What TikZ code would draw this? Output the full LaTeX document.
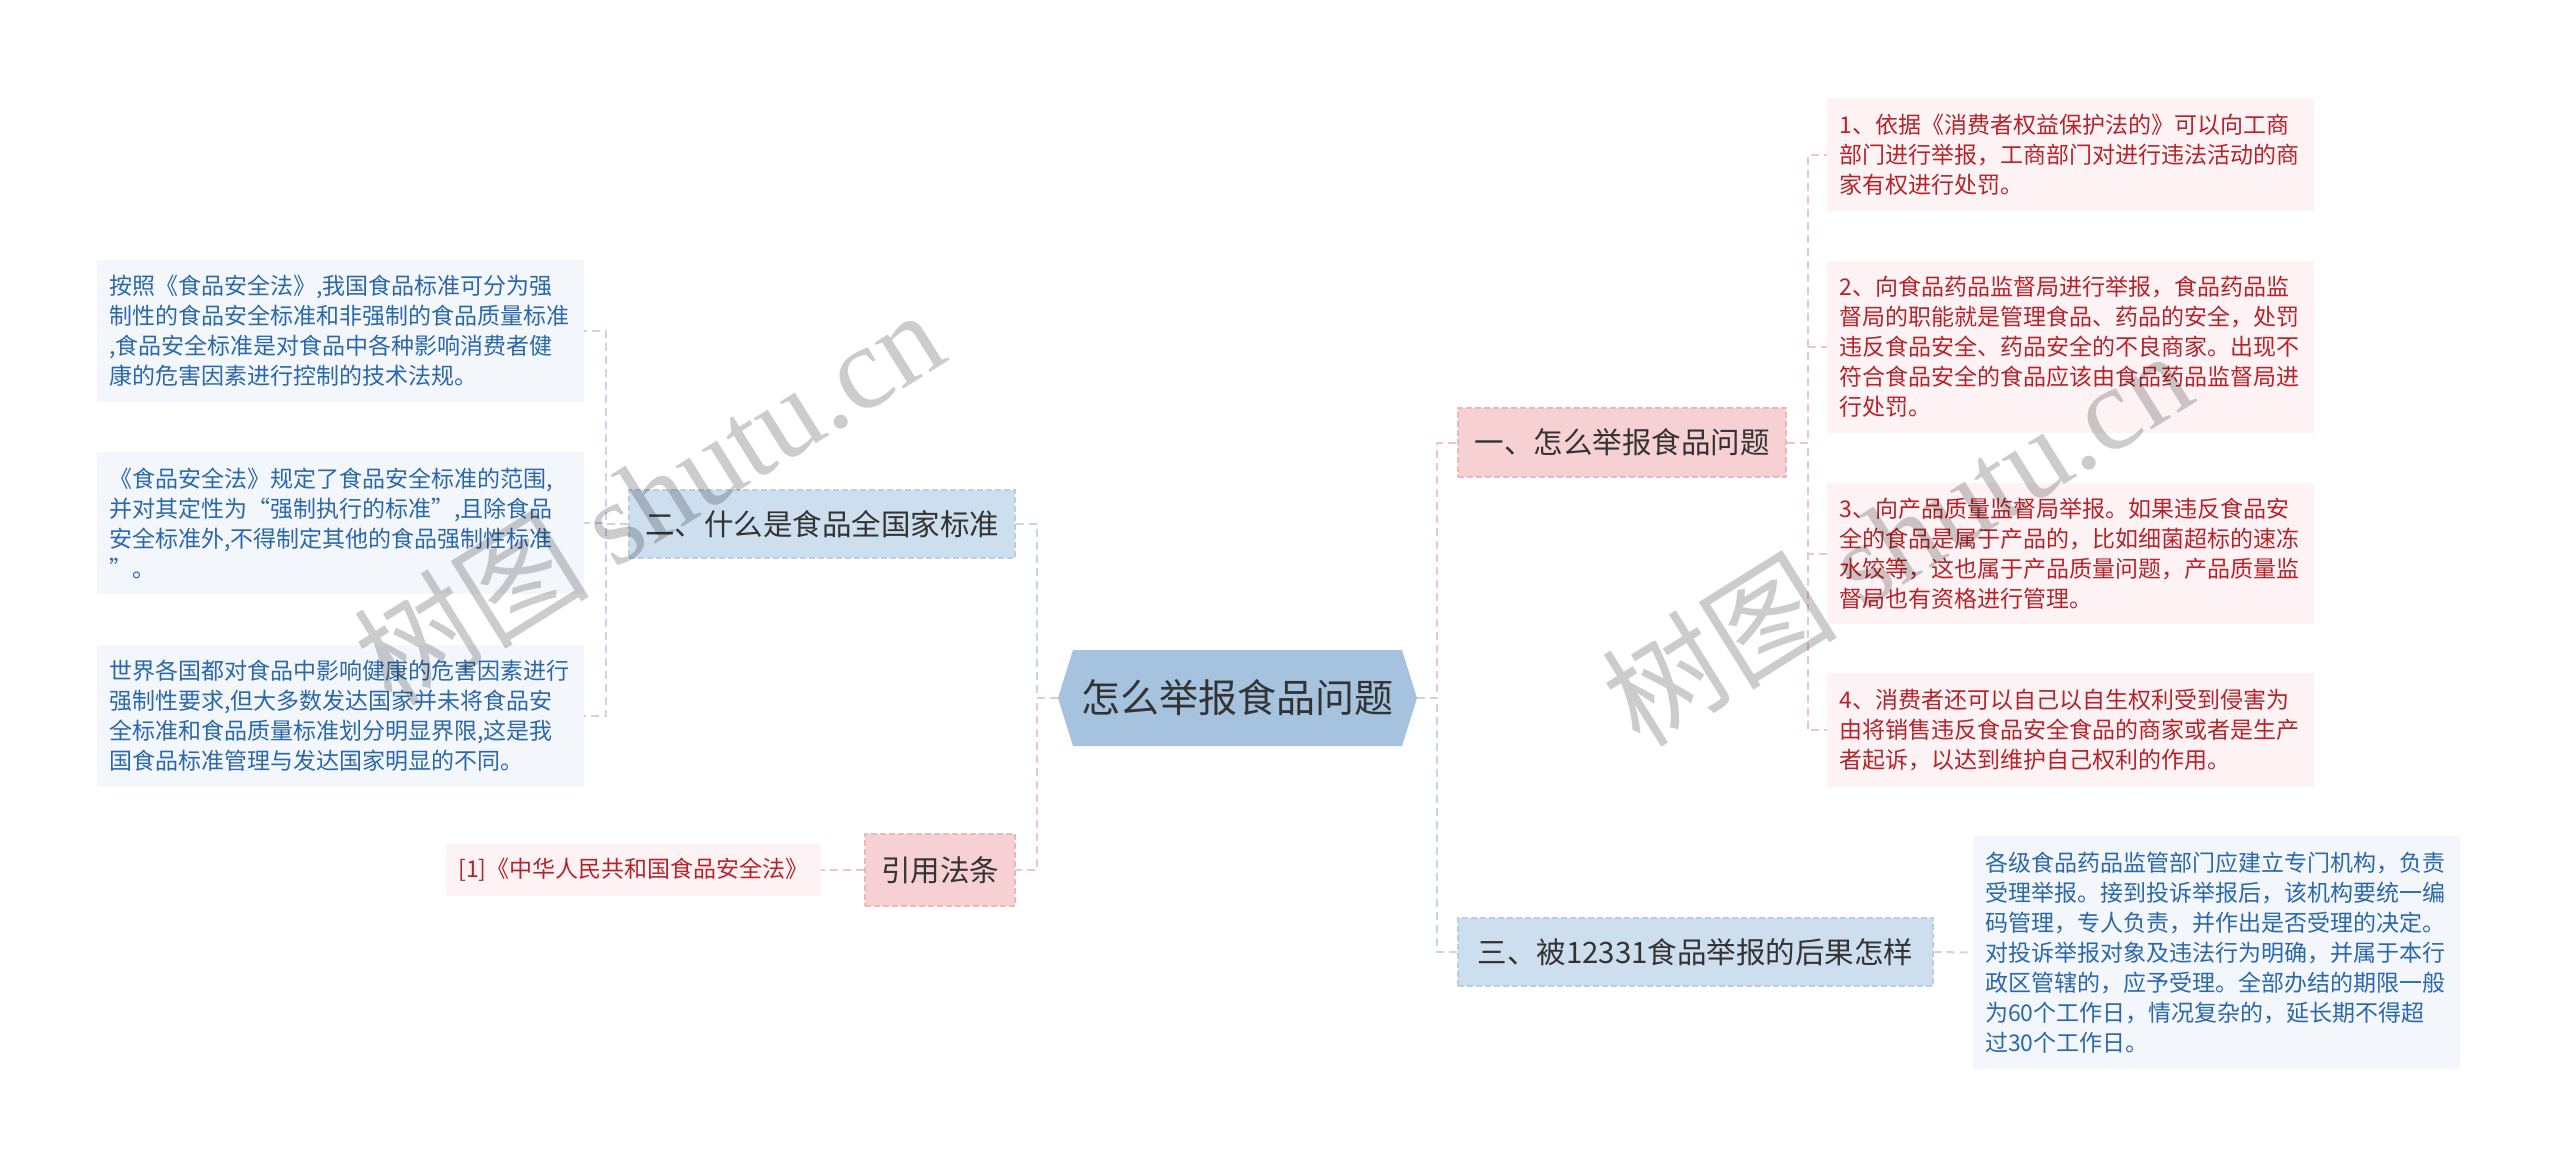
\documentclass[tikz,border=0pt]{standalone}
\usepackage{fontspec}
\setmainfont{Noto Sans CJK SC}
\newfontfamily\wmlatin{Liberation Serif}
\definecolor{rootfill}{RGB}{165,195,222}
\definecolor{pinkfill}{RGB}{246,208,210}
\definecolor{pinkborder}{RGB}{234,184,188}
\definecolor{bluefill}{RGB}{205,222,238}
\definecolor{blueborder}{RGB}{185,206,226}
\definecolor{pinkleaf}{RGB}{253,243,244}
\definecolor{blueleaf}{RGB}{243,247,252}
\definecolor{redtext}{RGB}{183,35,43}
\definecolor{bluetext}{RGB}{43,104,170}
\definecolor{pinkline}{RGB}{240,196,200}
\definecolor{blueline}{RGB}{196,214,232}
\definecolor{darktext}{RGB}{51,51,51}
\begin{document}
\begin{tikzpicture}[x=1pt,y=-1pt,
  branchbox/.style={draw, dash pattern=on 6pt off 3pt, line width=1.2pt, minimum height=68pt, inner sep=0pt, text=darktext, font=\fontsize{29.5}{34}\selectfont},
  pinkbranch/.style={branchbox, fill=pinkfill, draw=pinkborder},
  bluebranch/.style={branchbox, fill=bluefill, draw=blueborder},
  leafbox/.style={text width=462pt, inner xsep=12.5pt, inner ysep=0pt, align=left, font=\fontsize{23}{30}\selectfont},
  pinkleafbox/.style={leafbox, fill=pinkleaf, text=redtext},
  blueleafbox/.style={leafbox, fill=blueleaf, text=bluetext},
  pinkconn/.style={draw=pinkline, line width=2pt, dash pattern=on 8pt off 5pt},
  blueconn/.style={draw=blueline, line width=2pt, dash pattern=on 8pt off 5pt},
  watermark/.style={text=black, text opacity=0.2, rotate=32, inner sep=0pt, font=\fontsize{118}{128}\selectfont}
]
\fill[white] (0,0) rectangle (2560,1167);
\useasboundingbox (0,0) rectangle (2560,1167);

% root
\fill[rootfill] (1058,698) -- (1073,650) -- (1402,650) -- (1417,698) -- (1402,746) -- (1073,746) -- cycle;
\node[minimum width=359pt, minimum height=96pt, inner sep=0pt, text=darktext, font=\fontsize{39}{44}\selectfont] (root) at (1237.5,698) {怎么举报食品问题};

% branches
\node[pinkbranch, minimum width=328pt, minimum height=69pt] (b1) at (1622,442.5) {一、怎么举报食品问题};
\node[bluebranch, minimum width=386pt] (b2) at (822,524) {二、什么是食品全国家标准};
\node[bluebranch, minimum width=475pt] (b3) at (1695.5,952) {三、被12331食品举报的后果怎样};
\node[pinkbranch, minimum width=150pt, minimum height=72pt] (b4) at (940,870) {引用法条};

% right leaves
\node[pinkleafbox, minimum height=113pt] (r1) at (2070.5,154.5) {1、依据《消费者权益保护法的》可以向工商\\部门进行举报，工商部门对进行违法活动的商\\家有权进行处罚。};
\node[pinkleafbox, minimum height=172pt] (r2) at (2070.5,347) {2、向食品药品监督局进行举报，食品药品监\\督局的职能就是管理食品、药品的安全，处罚\\违反食品安全、药品安全的不良商家。出现不\\符合食品安全的食品应该由食品药品监督局进\\行处罚。};
\node[pinkleafbox, minimum height=141pt] (r3) at (2070.5,553.5) {3、向产品质量监督局举报。如果违反食品安\\全的食品是属于产品的，比如细菌超标的速冻\\水饺等，这也属于产品质量问题，产品质量监\\督局也有资格进行管理。};
\node[pinkleafbox, minimum height=114pt] (r4) at (2070.5,730) {4、消费者还可以自己以自生权利受到侵害为\\由将销售违反食品安全食品的商家或者是生产\\者起诉，以达到维护自己权利的作用。};
\node[blueleafbox, minimum height=233pt] (r5) at (2216,952.5) {各级食品药品监管部门应建立专门机构，负责\\受理举报。接到投诉举报后，该机构要统一编\\码管理，专人负责，并作出是否受理的决定。\\对投诉举报对象及违法行为明确，并属于本行\\政区管辖的，应予受理。全部办结的期限一般\\为60个工作日，情况复杂的，延长期不得超\\过30个工作日。};

% left leaves
\node[blueleafbox, minimum height=142pt] (l1) at (340.5,331) {按照《食品安全法》,我国食品标准可分为强\\制性的食品安全标准和非强制的食品质量标准\\,食品安全标准是对食品中各种影响消费者健\\康的危害因素进行控制的技术法规。};
\node[blueleafbox, minimum height=142pt] (l2) at (340.5,523) {《食品安全法》规定了食品安全标准的范围,\\并对其定性为“强制执行的标准”,且除食品\\安全标准外,不得制定其他的食品强制性标准\\”。};
\node[blueleafbox, minimum height=142pt] (l3) at (340.5,716) {世界各国都对食品中影响健康的危害因素进行\\强制性要求,但大多数发达国家并未将食品安\\全标准和食品质量标准划分明显界限,这是我\\国食品标准管理与发达国家明显的不同。};
\node[fill=pinkleaf, text=redtext, minimum width=375pt, minimum height=52pt, inner sep=0pt, font=\fontsize{23}{30}\selectfont] (ref) at (633.5,870) {[1]《中华人民共和国食品安全法》};

% connectors root
\draw[blueconn] (root.west) -- ++(-21,0) |- (b2.east);
\draw[pinkconn] (root.west) -- ++(-21,0) |- (b4.east);
\draw[pinkconn] (root.east) -- ++(20,0) |- (b1.west);
\draw[blueconn] (root.east) -- ++(20,0) |- (b3.west);

% branch to leaves
\foreach \n in {r1,r2,r3,r4}
  \draw[pinkconn] (b1.east) -- ++(21,0) |- (\n.west);
\foreach \n in {l1,l2,l3}
  \draw[blueconn] (b2.west) -- ++(-22,0) |- (\n.east);
\draw[blueconn] (b3.east) -- (r5.west);
\draw[pinkconn] (b4.west) -- (ref.east);

% watermarks
\node[watermark] (wm1) at (648,496) {树图 {\wmlatin shutu.cn}};
\node[watermark] (wm2) at (1896,537) {树图 {\wmlatin shutu.cn}};
\end{tikzpicture}
\end{document}
